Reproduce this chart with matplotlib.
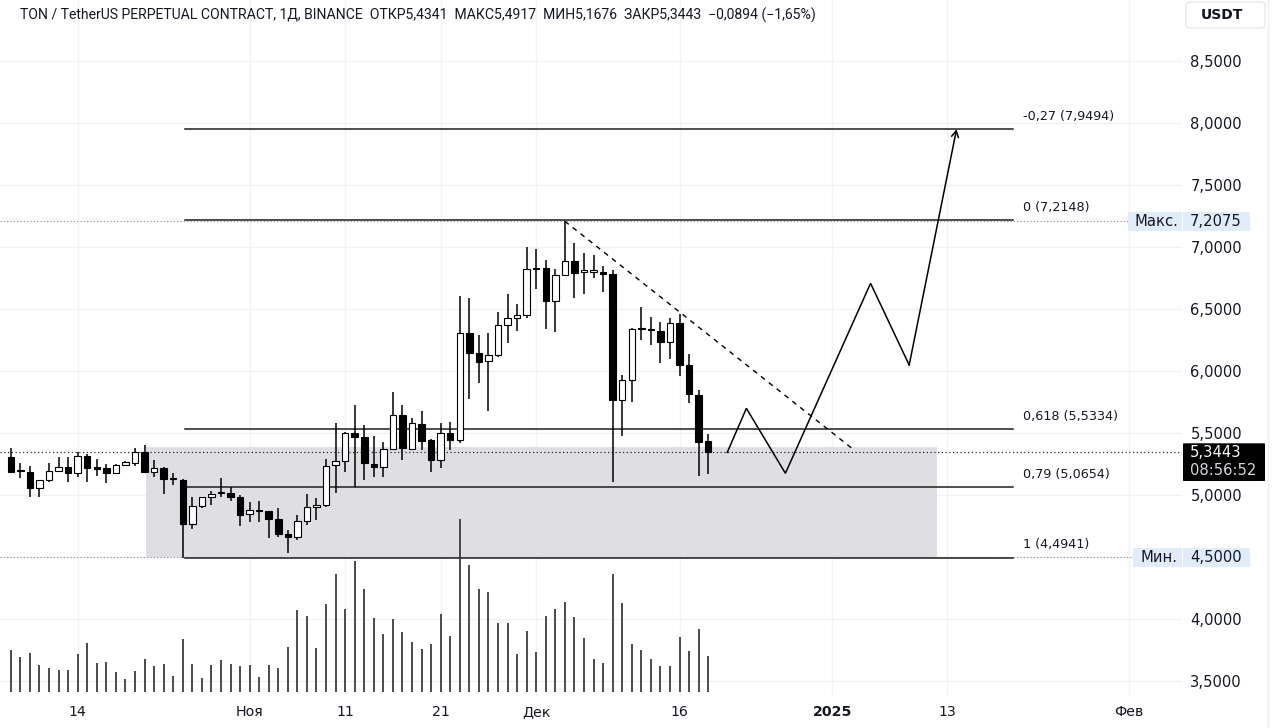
import numpy as np
import pandas as pd
import matplotlib
matplotlib.use("Agg")
import matplotlib.pyplot as plt
import matplotlib.transforms as mtransforms
from matplotlib.patches import Rectangle, FancyBboxPatch

# ---------------- data ----------------
start_date = pd.Timestamp("2024-10-07")
dates = pd.date_range(start_date, periods=74, freq="D")

opens = [5.304, 5.19, 5.183, 5.054, 5.121, 5.196, 5.228, 5.18, 5.314, 5.215,
         5.215, 5.175, 5.242, 5.255, 5.344, 5.188, 5.215, 5.13, 5.121, 4.763,
         4.911, 4.986, 5.013, 5.013, 4.981, 4.847, 4.876, 4.871, 4.806, 4.685,
         4.658, 4.793, 4.9, 4.919, 5.239, 5.274, 5.497, 5.465, 5.25, 5.228,
         5.374, 5.645, 5.371, 5.573, 5.443, 5.282, 5.503, 5.443, 6.309, 6.143,
         6.083, 6.129, 6.371, 6.428, 6.449, 6.82, 6.833, 6.565, 6.774, 6.89,
         6.80, 6.80, 6.801, 6.782, 5.766, 5.927, 6.338, 6.33, 6.325, 6.237,
         6.384, 6.048, 5.806, 5.4341]
highs = [5.376, 5.255, 5.234, 5.125, 5.255, 5.304, 5.304, 5.349, 5.33, 5.287,
         5.247, 5.25, 5.277, 5.376, 5.403, 5.282, 5.223, 5.175, 5.13, 4.986,
         4.986, 5.035, 5.134, 5.062, 5.0, 4.946, 4.951, 4.875, 4.892, 4.718,
         4.839, 5.008, 4.973, 5.29, 5.578, 5.51, 5.726, 5.564, 5.476, 5.43,
         5.828, 5.726, 5.618, 5.68, 5.45, 5.583, 5.591, 6.605, 6.586, 6.29,
         6.304, 6.479, 6.621, 6.54, 6.997, 6.981, 6.895, 6.823, 7.2075, 7.03,
         6.955, 6.936, 6.847, 6.815, 5.968, 6.344, 6.513, 6.438, 6.398, 6.425,
         6.46, 6.137, 5.847, 5.4917]
lows = [5.18, 5.134, 4.986, 4.986, 5.107, 5.19, 5.102, 5.148, 5.107, 5.153,
        5.094, 5.166, 5.234, 5.234, 5.175, 5.148, 5.008, 5.08, 4.4941, 4.726,
        4.892, 4.919, 4.986, 4.951, 4.752, 4.785, 4.785, 4.65, 4.664, 4.535,
        4.637, 4.758, 4.798, 4.9, 5.013, 5.188, 5.067, 5.121, 5.148, 5.148,
        5.363, 5.282, 5.363, 5.363, 5.188, 5.215, 5.363, 5.42, 5.772, 5.906,
        5.68, 6.11, 6.229, 6.325, 6.425, 6.659, 6.336, 6.317, 6.774, 6.586,
        6.621, 6.747, 6.64, 5.108, 5.476, 5.753, 6.25, 6.21, 6.062, 6.094,
        5.962, 5.745, 5.156, 5.1676]
closes = [5.183, 5.195, 5.054, 5.121, 5.193, 5.223, 5.18, 5.314, 5.215, 5.212,
          5.175, 5.242, 5.263, 5.344, 5.188, 5.215, 5.129, 5.126, 4.763, 4.911,
          4.981, 5.008, 5.016, 4.981, 4.839, 4.879, 4.871, 4.806, 4.685, 4.658,
          4.793, 4.9, 4.919, 5.234, 5.274, 5.497, 5.465, 5.255, 5.228, 5.374,
          5.645, 5.376, 5.578, 5.438, 5.282, 5.503, 5.443, 6.309, 6.148, 6.075,
          6.129, 6.368, 6.425, 6.449, 6.82, 6.833, 6.565, 6.774, 6.89, 6.793,
          6.805, 6.801, 6.782, 5.766, 5.927, 6.336, 6.34, 6.327, 6.237, 6.384,
          6.048, 5.812, 5.425, 5.3443]
volumes = [42.3, 35, 39, 26.7, 24.3, 22, 22.3, 38, 48.7, 29.3,
           30, 20, 13.3, 20.7, 33, 26, 28, 16, 53.3, 28,
           14, 27, 32.3, 28, 26, 27.3, 15, 26.7, 24.3, 45,
           81.7, 76.3, 44.3, 87.7, 117.7, 83, 130.7, 103.3, 74, 58,
           73.3, 59.7, 50, 43, 48, 78.3, 56, 173.3, 127.3, 102.7,
           100, 69.3, 69.3, 38.3, 60.7, 40, 76, 83.3, 89.7, 75.3,
           54, 33, 29.3, 118.3, 89.3, 48.3, 41.7, 33.3, 26, 26,
           55.3, 40.7, 62.7, 36]

price_ticks = [3.5, 4.0, 4.5, 5.0, 5.5, 6.0, 6.5, 7.0, 7.5, 8.0, 8.5]
date_ticks = ["2024-10-14", "2024-11-01", "2024-11-11", "2024-11-21", "2024-12-01",
              "2024-12-16", "2025-01-01", "2025-01-13", "2025-02-01"]
date_tick_labels = ["14", "Ноя", "11", "21", "Дек", "16", "2025", "13", "Фев"]

fib_ratios = ["-0,27", "0", "0,618", "0,79", "1"]
fib_levels = [7.9494, 7.2148, 5.5334, 5.0654, 4.4941]
fib_start = pd.Timestamp("2024-10-25 06:00")
fib_end = pd.Timestamp("2025-01-19 22:00")

zone_start = pd.Timestamp("2024-10-21 04:00")
zone_end = pd.Timestamp("2025-01-11 22:00")
zone_low, zone_high = 4.5, 5.387

trend_dates = [pd.Timestamp("2024-12-04"), pd.Timestamp("2025-01-03 01:00")]
trend_prices = [7.2075, 5.377]

proj_dates = [pd.Timestamp("2024-12-21"), pd.Timestamp("2024-12-23"),
              pd.Timestamp("2024-12-27 02:00"), pd.Timestamp("2025-01-05"),
              pd.Timestamp("2025-01-09 01:00"), pd.Timestamp("2025-01-14")]
proj_prices = [5.3443, 5.699, 5.175, 6.707, 6.048, 7.9494]

max_price, min_price = 7.2075, 4.5
last_price = 5.3443
countdown = "08:56:52"
title = ("TON / TetherUS PERPETUAL CONTRACT, 1Д, BINANCE  ОТКР5,4341  МАКС5,4917  "
         "МИН5,1676  ЗАКР5,3443  −0,0894 (−1,65%)")


def dnum(d):
    return (pd.Timestamp(d) - start_date) / pd.Timedelta(days=1)


def fmt(v):
    return f"{v:.4f}".replace(".", ",")


# ---------------- figure ----------------
W, H = 1280, 728
fig = plt.figure(figsize=(W / 100, H / 100), dpi=100)
fig.patch.set_facecolor("white")
ax_left, ax_w = 0.0, 1182 / W
ax_bot, ax_h = (H - 697) / H, 697 / H
ax = fig.add_axes([ax_left, ax_bot, ax_w, ax_h])
ax.set_facecolor("white")
for s in ax.spines.values():
    s.set_visible(False)

x = np.array([dnum(d) for d in dates])
o = np.array(opens); hi = np.array(highs); lo = np.array(lows); c = np.array(closes)

ax.set_xlim(-1.131, 122.6)
ax.set_ylim(3.371, 8.992)

txt_col = "#131722"
ax.yaxis.tick_right()
ax.set_yticks(price_ticks)
ax.set_yticklabels([fmt(v) for v in price_ticks])
ax.tick_params(axis="y", length=0, pad=6, labelsize=10.6, labelcolor=txt_col)
ax.set_xticks([dnum(d) for d in date_ticks])
ax.set_xticklabels(date_tick_labels)
ax.tick_params(axis="x", length=0, pad=6, labelsize=10.2, labelcolor=txt_col)
for lab in ax.get_xticklabels():
    if lab.get_text() == "2025":
        lab.set_fontweight("bold")
ax.grid(True, color="#f1f2f5", lw=1.0, zorder=0)
ax.set_axisbelow(True)

# zone rectangle
ax.add_patch(Rectangle((dnum(zone_start), zone_low), dnum(zone_end) - dnum(zone_start),
                       zone_high - zone_low, facecolor="#dfdfe3", edgecolor="none", zorder=1))

# dotted reference lines
x0, x1 = ax.get_xlim()
ax.plot([x0, x1], [last_price, last_price], color="#2a2a2a", lw=0.9,
        ls=(0, (1, 2)), zorder=2)
xmax_end = x0 + (x1 - x0) * 1128 / 1182
xmin_end = x0 + (x1 - x0) * 1135 / 1182
ax.plot([x0, xmax_end], [max_price, max_price], color="#8a8d96", lw=0.8, ls=(0, (1, 2)), zorder=2)
ax.plot([x0, xmin_end], [min_price, min_price], color="#8a8d96", lw=0.8, ls=(0, (1, 2)), zorder=2)

# fib lines
for r, lv in zip(fib_ratios, fib_levels):
    ax.plot([dnum(fib_start), dnum(fib_end)], [lv, lv], color="#1e1e1e", lw=1.1, zorder=2)
    ax.annotate(f"{r} ({fmt(lv)})", (dnum(fib_end) + 1.05, lv), xytext=(0, 4.5),
                textcoords="offset points", ha="left", va="bottom", fontsize=9.2,
                color=txt_col, family="DejaVu Sans")

# candles
ax.vlines(x, lo, hi, color="black", lw=1.1, zorder=3)
up = c >= o
body_bot = np.minimum(o, c)
body_h = np.maximum(np.abs(c - o), 0.012)
ax.bar(x[up], body_h[up], bottom=body_bot[up], width=0.68, color="white",
       edgecolor="black", linewidth=0.8, zorder=4)
ax.bar(x[~up], body_h[~up], bottom=body_bot[~up], width=0.68, color="black",
       edgecolor="black", linewidth=0.8, zorder=4)

# dashed trend line
ax.plot([dnum(d) for d in trend_dates], trend_prices, color="black", lw=1.0,
        ls=(0, (3.6, 3.6)), zorder=5)

# projection path
px = [dnum(d) for d in proj_dates]
ax.plot(px[:-1], proj_prices[:-1], color="black", lw=1.1, zorder=5, solid_joinstyle="miter")
ax.annotate("", xy=(px[-1], proj_prices[-1]), xytext=(px[-2], proj_prices[-2]),
            arrowprops=dict(arrowstyle="->,head_length=0.45,head_width=0.25", lw=1.1,
                            color="black", shrinkA=0, shrinkB=0), zorder=5)

# volume pane (overlay)
ax2 = fig.add_axes([ax_left, ax_bot, ax_w, ax_h], sharex=ax)
ax2.set_axis_off()
ax2.set_ylim(-5, 692)
ax2.vlines(x, 0, volumes, color="#3c3c3c", lw=1.3)

# right-hand price tags
tr = mtransforms.blended_transform_factory(fig.transFigure, ax.transData)
ppx = 1 / 124.0  # price per pixel
def tag(px0, px1, price, text, fc, tc, hpx=19, bold=False):
    ax.add_patch(Rectangle((px0 / W, price - hpx / 2 * ppx), (px1 - px0) / W, hpx * ppx,
                           transform=tr, facecolor=fc, edgecolor="none", clip_on=False, zorder=6))
    ax.text(px0 / W + 7 / W, price, text, transform=tr, ha="left", va="center",
            fontsize=10.6, color=tc, clip_on=False, zorder=7,
            fontweight="bold" if bold else "normal")

tag(1128, 1182, max_price, "Макс.", "#e1ecfa", txt_col)
tag(1183, 1250, max_price, fmt(max_price), "#e1ecfa", txt_col)
tag(1133, 1182, min_price, "Мин.", "#e1ecfa", txt_col)
tag(1183, 1250, min_price, fmt(min_price), "#e1ecfa", txt_col)

# last price box
top_p = 8.5 - (443.3 - 61) * ppx
bot_p = 8.5 - (481 - 61) * ppx
ax.add_patch(FancyBboxPatch((1183 / W, bot_p), 82 / W, top_p - bot_p,
                            boxstyle="round,pad=0,rounding_size=0.002", transform=tr,
                            facecolor="black", edgecolor="none", clip_on=False, zorder=6))
ax.text(1190 / W, last_price, fmt(last_price), transform=tr, ha="left", va="center",
        fontsize=10.6, color="white", clip_on=False, zorder=7)
ax.text(1190 / W, 8.5 - (470 - 61) * ppx, countdown, transform=tr, ha="left", va="center",
        fontsize=10.6, color="#d6d8de", clip_on=False, zorder=7)

# USDT box and right border
fig.patches.append(FancyBboxPatch((1186 / W, 1 - 28 / H), 79 / W, 26 / H,
                                  boxstyle="round,pad=0,rounding_size=0.004",
                                  transform=fig.transFigure, facecolor="white",
                                  edgecolor="#e6e8ee", lw=1.0))
fig.text(1222 / W, 1 - 15 / H, "USDT", ha="center", va="center", fontsize=10,
         color=txt_col, fontweight="bold")
fig.add_artist(plt.Line2D([1268 / W, 1268 / W], [0, 1], transform=fig.transFigure,
                          color="#eeeff2", lw=1.0))

# title
fig.text(20 / W, 1 - 15 / H, title, ha="left", va="center", fontsize=10.1,
         color=txt_col, family=["Roboto", "DejaVu Sans"])

fig.savefig("out.png", dpi=100, facecolor="white")
